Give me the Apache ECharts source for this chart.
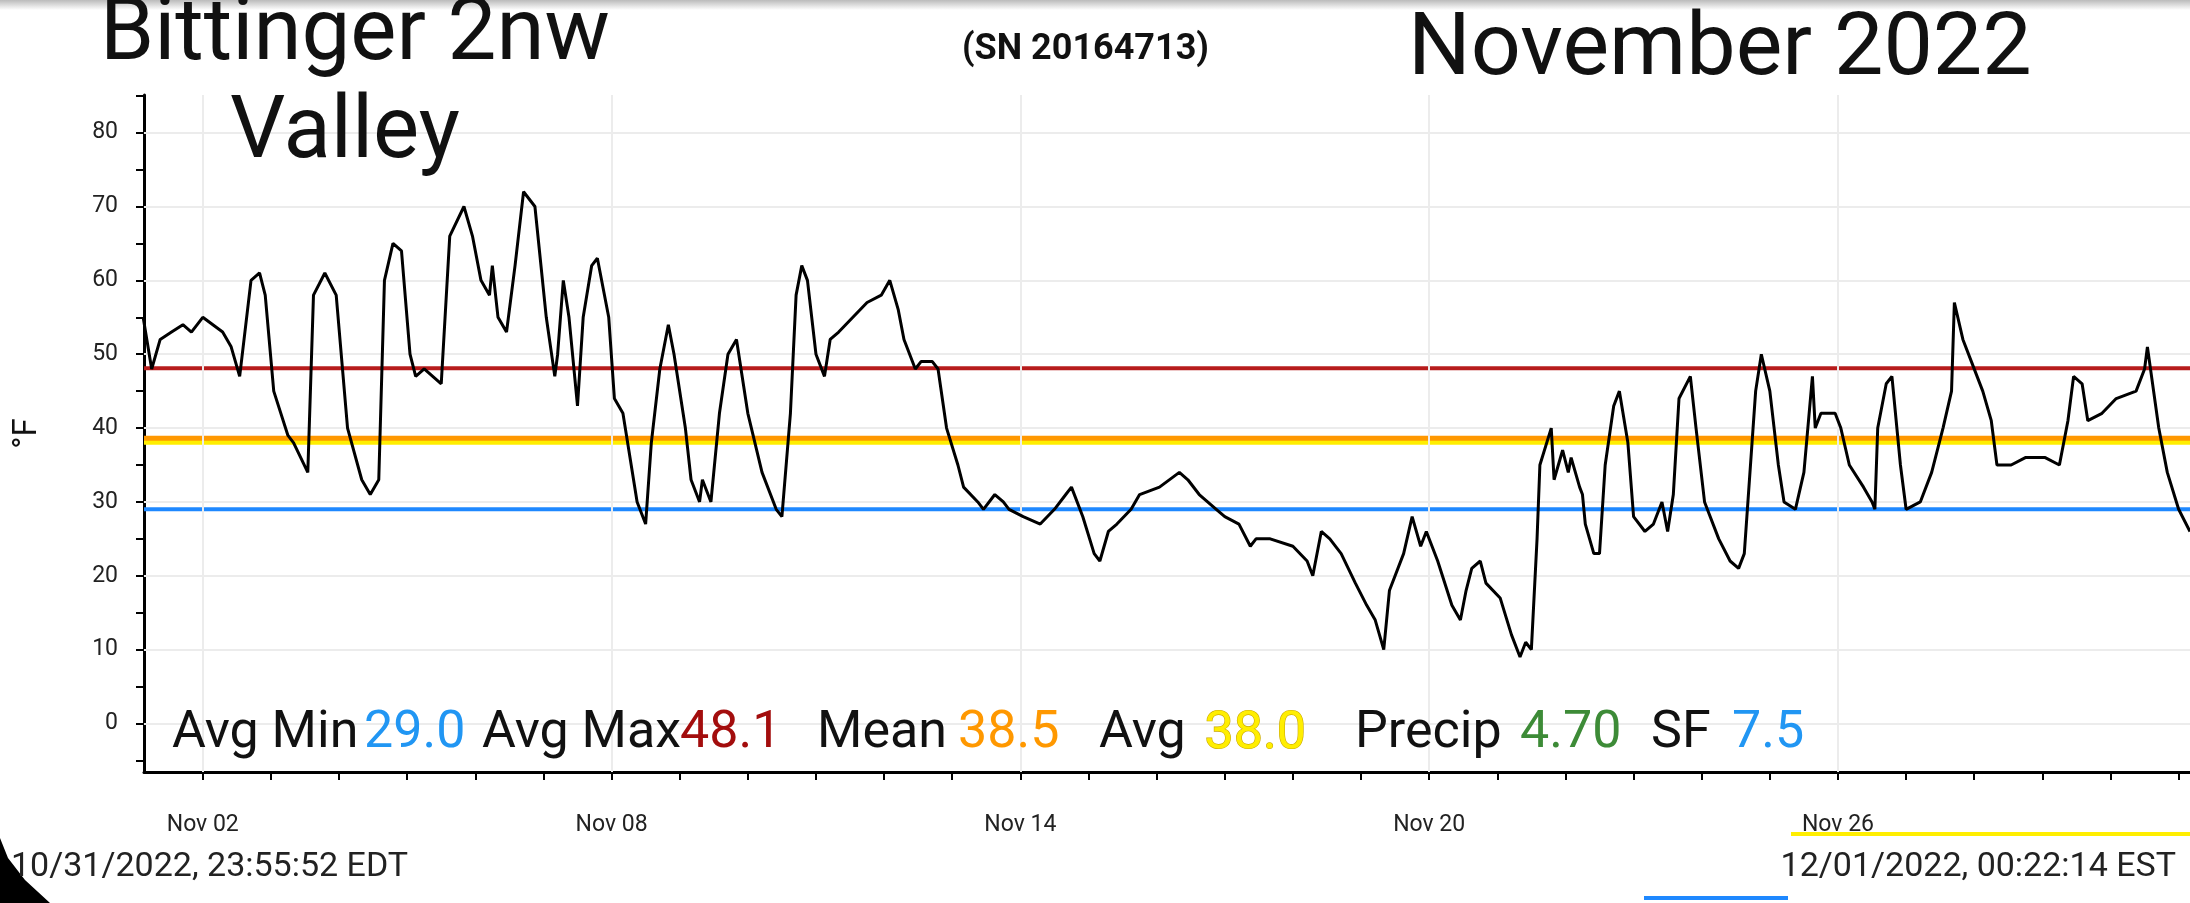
<!DOCTYPE html>
<html>
<head>
<meta charset="utf-8">
<script src="https://cdn.jsdelivr.net/npm/echarts@6/dist/echarts.min.js"></script>
<style>
html, body { margin: 0; padding: 0; background: #fff; }
#chart { width: 2190px; height: 903px; }
</style>
</head>
<body>
<div id="chart"></div>
<script>
// hours since Nov 1 00:00 and temperature (°F)
var hours = [3,6,9,13,17,20,24,31,34,37,41,44,46,49,54,56,61,63,67,71,75,80,83,86,88,91,94,97,99,102,108,111,116,119,122,125,126,128,131,134,137,141,145,148,149,151,153,156,158,161,163,167,169,172,177,180,182,185,188,190,194,196,199,200,203,206,209,212,216,221,226,228,231,233,235,237,240,243,245,248,253,258,263,266,269,271,275,277,281,283,286,290,292,297,299,303,306,308,313,319,324,328,330,334,338,340,343,346,351,354,361,368,371,375,381,384,389,393,395,400,408,413,415,418,421,425,430,434,437,440,442,447,450,453,455,459,464,467,469,471,474,476,481,485,488,490,492,494,495,499,500,503,505,506,509,510,511,514,516,518,521,523,526,528,532,535,538,540,542,544,548,550,553,558,562,565,567,571,573,576,579,581,585,588,591,592,594,599,601,604,609,612,613,614,617,619,622,624,629,633,637,640,641,644,647,651,654,656,661,666,673,678,681,683,686,688,693,698,705,708,709,713,716,720,724]
var temps = [55,48,52,53,54,53,55,53,51,47,60,61,58,45,39,38,34,58,61,58,40,33,31,33,60,65,64,50,47,48,46,66,70,66,60,58,62,55,53,62,72,70,55,47,50,60,55,43,55,62,63,55,44,42,30,27,38,48,54,50,40,33,30,33,30,42,50,52,42,34,29,28,42,58,62,60,50,47,52,53,55,57,58,60,56,52,48,49,49,48,40,35,32,30,29,31,30,29,28,27,29,31,32,28,23,22,26,27,29,31,32,34,33,31,29,28,27,24,25,25,24,22,20,26,25,23,19,16,14,10,18,23,28,24,26,22,16,14,18,21,22,19,17,12,9,11,10,25,35,40,33,37,34,36,32,31,27,23,23,35,43,45,38,28,26,27,30,26,31,44,47,40,30,25,22,21,23,45,50,45,35,30,29,34,47,40,42,42,40,35,32,30,29,40,46,47,35,29,30,34,40,45,57,52,49,45,41,35,35,36,36,35,41,47,46,41,42,44,45,48,51,40,34,29,26]

var xLabelHours = [24, 168, 312, 456, 600]
var xLabelText = ['Nov 02', 'Nov 08', 'Nov 14', 'Nov 20', 'Nov 26']
var yLabels = [0, 10, 20, 30, 40, 50, 60, 70, 80]

var avgMin = 29.0, avgMax = 48.1, mean = 38.5, avg = 38.0

var dayTicks = []
for (var d = 1; d <= 30; d++) dayTicks.push(d * 24)
var yTicks = []
for (var v = -5; v <= 85; v += 5) yTicks.push(v)

var chart = echarts.init(document.getElementById('chart'))

function hline(val, color, width) {
    return {
        type: 'line', data: [[3.3, val], [724, val]], symbol: 'none', silent: true,
        lineStyle: { color: color, width: width }, z: 3
    }
}

var gridMarks = xLabelHours.map(function (h) { return { xAxis: h } })
    .concat(yLabels.map(function (y) { return { yAxis: y } }))

var stats = [
    ['Avg Min', 172, '#111'], ['29.0', 364, '#2196f3'],
    ['Avg Max', 482, '#111'], ['48.1', 680, '#a30d0d'],
    ['Mean', 817, '#111'], ['38.5', 958, '#ff9800'],
    ['Avg', 1099, '#111'], ['38.0', 1204, '#ffee00'],
    ['Precip', 1355, '#111'], ['4.70', 1520, '#3d8b37'],
    ['SF', 1651, '#111'], ['7.5', 1732, '#2196f3']
]
var statTexts = stats.map(function (s) {
    var isAvg = s[0] === '38.0'
    return {
        type: 'text', left: s[1], top: 708, z: 10,
        style: {
            text: s[0], fill: s[2], font: '52px Roboto, sans-serif',
            stroke: isAvg ? '#c9a800' : 'transparent', lineWidth: isAvg ? 1.2 : 0
        }
    }
})

var option = {
    animation: false,
    backgroundColor: '#fff',
    grid: { left: 144, right: 0, top: 95, bottom: 131 },
    xAxis: {
        type: 'value', min: 3.3, max: 724,
        axisLine: { onZero: false, lineStyle: { color: '#000', width: 3 } },
        axisTick: { customValues: dayTicks, length: 8, lineStyle: { color: '#000', width: 2 } },
        axisLabel: {
            customValues: xLabelHours, color: '#222', fontSize: 23, margin: 42,
            fontFamily: 'Roboto',
            formatter: function (val) { return xLabelText[xLabelHours.indexOf(val)] || '' }
        },
        splitLine: { show: false }
    },
    yAxis: {
        type: 'value', min: -6.57, max: 85.1,
        axisLine: { show: true, onZero: false, lineStyle: { color: '#000', width: 3 } },
        axisTick: { show: true, customValues: yTicks, length: 8, lineStyle: { color: '#000', width: 2 } },
        axisLabel: { customValues: yLabels, color: '#222', fontSize: 23, margin: 26, fontFamily: 'Roboto' },
        splitLine: { show: false },
        name: '°F', nameLocation: 'middle', nameGap: 100, nameRotate: 90,
        nameTextStyle: { fontSize: 33, color: '#111', fontFamily: 'Roboto' }
    },
    series: [
        {
            type: 'line', data: [], silent: true,
            markLine: { symbol: 'none', silent: true, label: { show: false },
                lineStyle: { color: '#ececec', width: 2, type: 'solid' }, data: gridMarks }
        },
        hline(avgMax, '#b71c1c', 4),
        hline(mean, '#ff9800', 7),
        hline(avg, '#ffee00', 4),
        hline(avgMin, '#1e88ff', 4),
        {
            type: 'line', data: hours.map(function (h, i) { return [h, temps[i]] }),
            symbol: 'none', lineStyle: { color: '#000', width: 3 }, z: 5
        }
    ],
    graphic: [
        { type: 'rect', shape: { x: 0, y: 0, width: 2190, height: 10 },
          style: { fill: new echarts.graphic.LinearGradient(0, 0, 0, 1, [{ offset: 0, color: '#bbb' }, { offset: 1, color: '#fff' }]) } },
        { type: 'text', left: 100, top: -6, z: 10, style: { text: 'Bittinger 2nw', font: '87px Roboto, sans-serif', fill: '#111' } },
        { type: 'text', left: 230, top: 92, z: 10, style: { text: 'Valley', font: '87px Roboto, sans-serif', fill: '#111' } },
        { type: 'text', left: 962, top: 32, z: 10, style: { text: '(SN 20164713)', font: 'bold 36px Roboto, sans-serif', fill: '#111' } },
        { type: 'text', left: 1408, top: 8, z: 10, style: { text: 'November 2022', font: '88px Roboto, sans-serif', fill: '#111' } },
        { type: 'text', left: 11, top: 850, z: 10, style: { text: '10/31/2022, 23:55:52 EDT', font: '34px Roboto, sans-serif', fill: '#222' } },
        { type: 'text', right: 14, top: 850, z: 10, style: { text: '12/01/2022, 00:22:14 EST', font: '34px Roboto, sans-serif', fill: '#222' } },
        { type: 'rect', shape: { x: 1791, y: 832, width: 399, height: 4 }, style: { fill: '#ffee00' } },
        { type: 'rect', shape: { x: 1644, y: 896, width: 144, height: 4 }, style: { fill: '#1e88ff' } },
        { type: 'polygon', shape: { points: [[0, 838], [8, 858], [25, 880], [50, 903], [0, 903]] }, style: { fill: '#000' } }
    ].concat(statTexts)
}
chart.setOption(option)
</script>
</body>
</html>
